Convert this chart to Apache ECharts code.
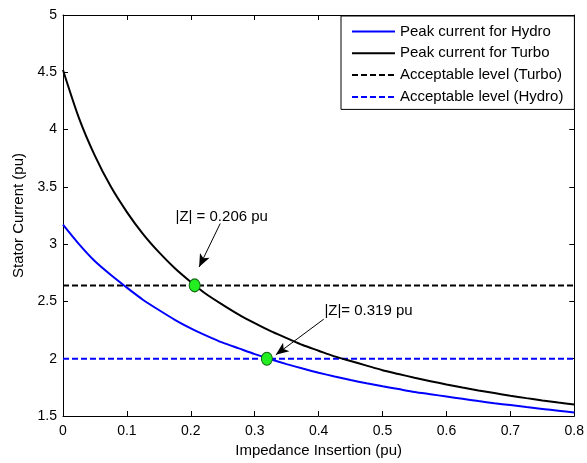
<!DOCTYPE html>
<html>
<head>
<meta charset="utf-8">
<script src="https://cdn.jsdelivr.net/npm/echarts@6/dist/echarts.min.js"></script>
<style>
  html, body { margin: 0; padding: 0; background: #fff; }
  #chart { width: 587px; height: 463px; }
</style>
</head>
<body>
<div id="chart"></div>
<script>
// Impedance insertion (pu), sampled every 0.025
const impedance = [0, 0.025, 0.05, 0.075, 0.1, 0.125, 0.15, 0.175, 0.2, 0.225, 0.25, 0.275, 0.3,
  0.325, 0.35, 0.375, 0.4, 0.425, 0.45, 0.475, 0.5, 0.525, 0.55, 0.575, 0.6, 0.625, 0.65, 0.675,
  0.7, 0.725, 0.75, 0.775, 0.8];
// Peak stator current (pu)
const turboCurrent = [4.52, 4.10, 3.77, 3.50, 3.28, 3.09, 2.93, 2.79, 2.67, 2.56, 2.47, 2.385, 2.31,
  2.24, 2.18, 2.12, 2.07, 2.02, 1.98, 1.94, 1.90, 1.867, 1.834, 1.804, 1.775, 1.748, 1.723, 1.70,
  1.677, 1.656, 1.636, 1.617, 1.60];
const hydroCurrent = [3.17, 3.00, 2.85, 2.73, 2.62, 2.515, 2.425, 2.34, 2.265, 2.20, 2.14, 2.09, 2.04,
  1.995, 1.953, 1.914, 1.878, 1.845, 1.814, 1.786, 1.76, 1.735, 1.71, 1.69, 1.67, 1.65, 1.63, 1.612,
  1.595, 1.578, 1.562, 1.546, 1.53];
// Acceptable current levels (pu)
const turboLevel = 2.64;
const hydroLevel = 2.0;
const xRange = [0, 0.8];
// Operating points where each curve meets its acceptable level
const turboCross = [0.206, turboLevel];
const hydroCross = [0.319, hydroLevel];
const seriesNames = ['Peak current for Hydro', 'Peak current for Turbo',
  'Acceptable level (Turbo)', 'Acceptable level (Hydro)'];
const annotationTexts = ['|Z| = 0.206 pu', '|Z|= 0.319 pu'];
// Annotation anchors in data units: text position, arrow start, arrow end
const turboNote = { text: [0.176, 3.24], from: [0.246, 3.18], to: [0.213, 2.80] };
const hydroNote = { text: [0.409, 2.42], from: [0.408, 2.345], to: [0.333, 2.034] };

const FONT = 'Liberation Sans, Arial, sans-serif';
const zip = (xs, ys) => xs.map((x, i) => [x, ys[i]]);

const chart = echarts.init(document.getElementById('chart'), null, { renderer: 'canvas' });

const baseAxis = {
  axisLine: { show: true, onZero: false, lineStyle: { color: '#000', width: 1 } },
  axisTick: { show: true, inside: true, length: 5, lineStyle: { color: '#000' } },
  splitLine: { show: false }
};

const curveSeries = (name, data, color, dashed) => ({
  name, type: 'line', data,
  showSymbol: false, symbol: 'none', color,
  smooth: dashed ? false : 0.25,
  lineStyle: { color, width: 2, type: dashed ? [6, 3] : 'solid' },
  itemStyle: { color, opacity: 0 },
  z: dashed ? 2 : 3
});

chart.setOption({
  animation: false,
  textStyle: { fontFamily: FONT },
  grid: { left: 63, right: 10, top: 15, bottom: 45, containLabel: false },
  legend: {
    data: seriesNames,
    orient: 'vertical',
    left: 341,
    top: 16,
    itemWidth: 43,
    itemHeight: 14,
    itemGap: 6.8,
    itemTextGap: 11,
    padding: [8, 11, 5, 10],
    backgroundColor: '#fff',
    borderColor: '#000',
    borderWidth: 1,
    borderRadius: 0,
    selectedMode: false,
    itemStyle: { opacity: 0 },
    textStyle: { fontFamily: FONT, fontSize: 15, color: '#000' }
  },
  xAxis: [
    Object.assign({}, baseAxis, {
      type: 'value', position: 'bottom', min: xRange[0], max: xRange[1], interval: 0.1,
      name: 'Impedance Insertion (pu)', nameLocation: 'middle', nameGap: 27,
      nameTextStyle: { fontFamily: FONT, fontSize: 15, color: '#000' },
      axisLabel: { fontFamily: FONT, fontSize: 14, color: '#000', margin: 8 }
    }),
    Object.assign({}, baseAxis, {
      type: 'value', position: 'top', min: xRange[0], max: xRange[1], interval: 0.1,
      axisLabel: { show: false }
    })
  ],
  yAxis: [
    Object.assign({}, baseAxis, {
      type: 'value', position: 'left', min: 1.5, max: 5, interval: 0.5,
      name: 'Stator Current (pu)', nameLocation: 'middle', nameGap: 35,
      nameTextStyle: { fontFamily: FONT, fontSize: 15, color: '#000' },
      axisLabel: { fontFamily: FONT, fontSize: 14, color: '#000', margin: 6 }
    }),
    Object.assign({}, baseAxis, {
      type: 'value', position: 'right', min: 1.5, max: 5, interval: 0.5,
      axisLabel: { show: false }
    })
  ],
  series: [
    curveSeries(seriesNames[0], zip(impedance, hydroCurrent), '#0000ff', false),
    curveSeries(seriesNames[1], zip(impedance, turboCurrent), '#000000', false),
    curveSeries(seriesNames[2], [[xRange[0], turboLevel], [xRange[1], turboLevel]], '#000000', true),
    curveSeries(seriesNames[3], [[xRange[0], hydroLevel], [xRange[1], hydroLevel]], '#0000ff', true),
    {
      name: 'crossings', type: 'scatter', data: [turboCross, hydroCross],
      symbol: 'circle', symbolSize: [11, 13],
      itemStyle: { color: '#22ee22', borderColor: '#116611', borderWidth: 1, opacity: 1 },
      z: 5, silent: true,
      markLine: {
        silent: true, animation: false,
        symbol: ['none', 'arrow'], symbolSize: [8, 13],
        label: { show: false },
        lineStyle: { color: '#000', width: 1, type: 'solid' },
        data: [
          [{ coord: turboNote.from }, { coord: turboNote.to }],
          [{ coord: hydroNote.from }, { coord: hydroNote.to }]
        ]
      },
      markPoint: {
        silent: true, animation: false,
        symbol: 'circle', symbolSize: 0,
        label: {
          show: true, position: 'right', distance: 0,
          fontFamily: FONT, fontSize: 15, color: '#000'
        },
        data: [
          { coord: turboNote.text, label: { formatter: annotationTexts[0] } },
          { coord: hydroNote.text, label: { formatter: annotationTexts[1] } }
        ]
      }
    }
  ]
});
</script>
</body>
</html>
